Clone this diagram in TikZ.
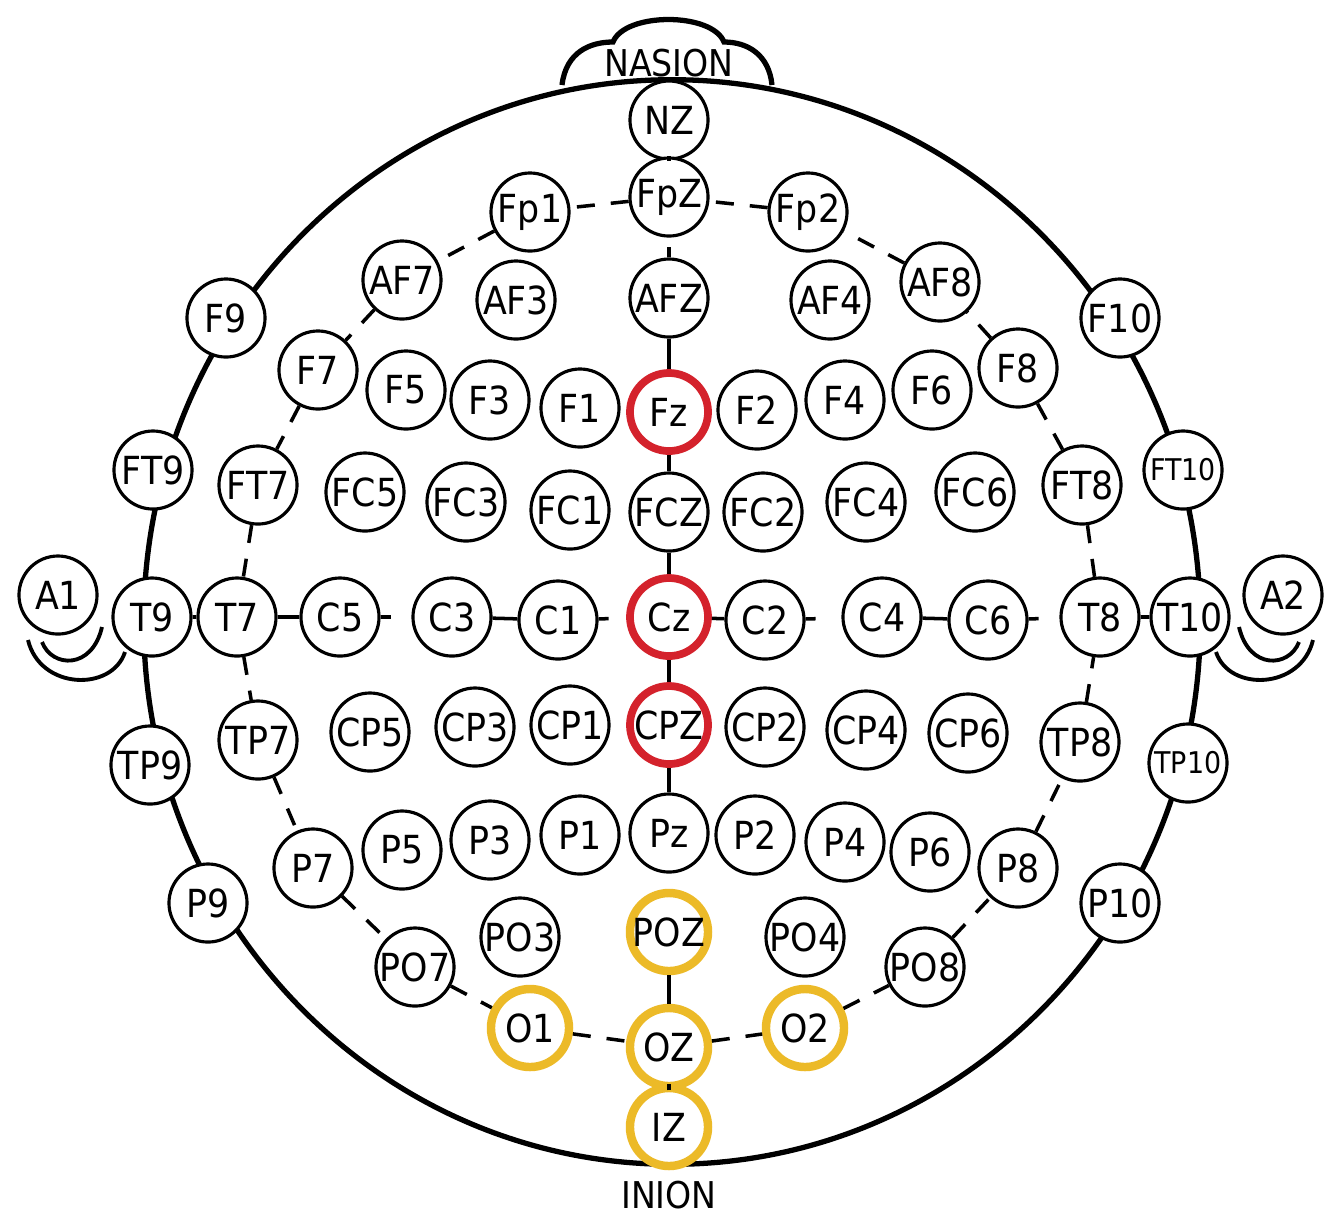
\documentclass[tikz,border=0pt]{standalone}
\usepackage{fontspec}
\setmainfont{DejaVu Sans Condensed}
\definecolor{eegred}{RGB}{212,34,44}
\definecolor{eegyellow}{RGB}{236,186,40}
\begin{document}
\begin{tikzpicture}[x=0.01cm, y=-0.01cm,
	elec/.style={circle, draw, line width=0.9pt, fill=white, minimum size=0.78cm, inner sep=0pt, font=\fontsize{11}{12}\selectfont},
	hot/.style={elec, draw=eegred, line width=2.2pt},
	occ/.style={elec, draw=eegyellow, line width=2.4pt},
	tiny/.style={font=\fontsize{8.5}{10}\selectfont},
	rim/.style={line width=1.5pt},
	link/.style={line width=1pt, dash pattern=on 0.18cm off 0.16cm},
	stub/.style={line width=1pt, dash pattern=on 0.1cm off 1cm},
	bar/.style={line width=1pt}]
	\useasboundingbox (0,0) rectangle (1339,1226);
	% head, nose and ears
	\draw[rim] (672,622) ellipse [x radius=5.28cm, y radius=5.42cm];
	\draw[rim] (562,85) .. controls (566,52) and (590,42) .. (613,42)
		.. controls (625,12) and (712,12) .. (724,42)
		.. controls (748,42) and (769,55) .. (772,85);
	\draw[line width=1.1pt] (42,642) .. controls (52,668) and (92,670) .. (102,627);
	\draw[line width=1.1pt] (28,640) .. controls (40,690) and (112,692) .. (125,652);
	\draw[line width=1.1pt] (1299,642) .. controls (1289,668) and (1249,670) .. (1239,627);
	\draw[line width=1.1pt] (1313,640) .. controls (1301,690) and (1229,692) .. (1216,652);
	\node[font=\fontsize{10.5}{12}\selectfont] (nasion) at (669,63) {NASION};
	\node[font=\fontsize{10.5}{12}\selectfont] (inion) at (669,1195) {INION};
	\coordinate (top) at (669,80);
	% electrodes
	\foreach \n/\x/\y in {NZ/669/120, FpZ/669/197, Fp1/530/212, Fp2/808/212,
		AF7/402/280, AF3/516/300, AFZ/669/298, AF4/830/300, AF8/940/282,
		F9/226/318, F10/1120/318,
		F7/318/370, F5/406/390, F3/490/400, F1/580/408, F2/757/410, F4/845/400, F6/932/390, F8/1018/368,
		FT9/153/470, FT7/258/485, FC5/365/492, FC3/466/502, FC1/570/510, FCZ/669/512, FC2/763/512, FC4/866/502, FC6/975/492, FT8/1082/485,
		A1/58/595, T9/152/617, T7/237/617, C5/340/617, C3/452/617, C1/558/620, C2/765/620, C4/882/617, C6/988/620, T8/1100/617, T10/1190/617, A2/1283/595,
		TP9/150/765, TP7/258/740, CP5/370/732, CP3/475/727, CP1/570/725, CP2/765/727, CP4/866/730, CP6/968/733, TP8/1080/742,
		P9/208/903, P7/313/868, P5/402/850, P3/490/840, P1/580/835, Pz/669/833, P2/755/835, P4/845/842, P6/930/852, P8/1018/868, P10/1120/903,
		PO7/415/967, PO3/520/937, PO4/805/937, PO8/925/967}
		\node[elec] (\n) at (\x,\y) {\n};
	\node[elec, tiny] (FT10) at (1183,470) {FT10};
	\node[elec, tiny] (TP10) at (1188,763) {TP10};
	\foreach \n/\x/\y in {Fz/669/412, Cz/669/617, CPZ/669/725}
		\node[hot] (\n) at (\x,\y) {\n};
	\foreach \n/\x/\y in {POZ/669/932, O1/530/1028, OZ/669/1047, O2/805/1028, IZ/669/1127}
		\node[occ] (\n) at (\x,\y) {\n};
	% connectors
	\foreach \a/\b in {FpZ/Fp1, Fp1/AF7, AF7/F7, F7/FT7, FT7/T7, T7/TP7, TP7/P7, P7/PO7, PO7/O1, O1/OZ,
		OZ/O2, O2/PO8, PO8/P8, P8/TP8, TP8/T8, T8/FT8, FT8/F8, F8/AF8, AF8/Fp2, Fp2/FpZ}
		\draw[link] (\a) -- (\b);
	\foreach \a/\b in {top/NZ, NZ/FpZ, AFZ/Fz, Fz/FCZ, FCZ/Cz, Cz/CPZ, CPZ/Pz, POZ/OZ, OZ/IZ,
		T9/T7, T7/C5, C3/C1, Cz/C2, C4/C6, T8/T10}
		\draw[bar] (\a) -- (\b);
	\foreach \a/\b in {AFZ/FpZ, C5/C3, C1/Cz, C2/C4, C6/T8}
		\draw[stub] (\a) -- (\b);
\end{tikzpicture}
\end{document}
